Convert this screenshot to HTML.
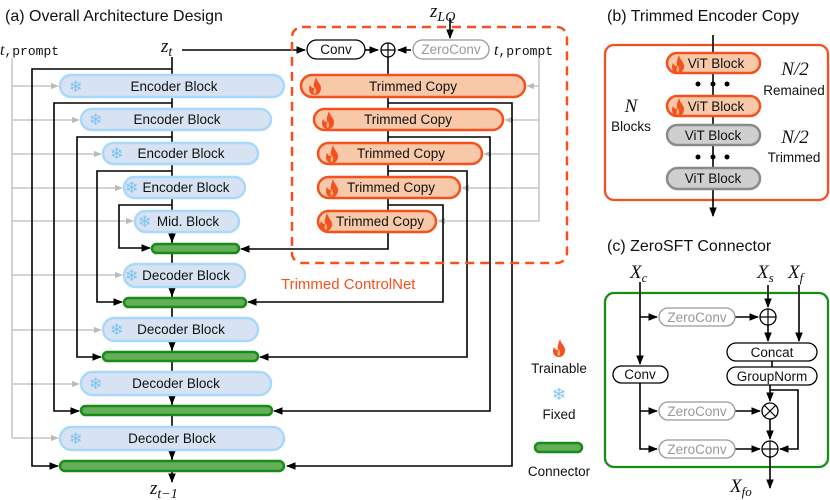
<!DOCTYPE html>
<html><head><meta charset="utf-8"><style>
html,body{margin:0;padding:0;background:#fff}
svg{display:block}
text{font-family:"Liberation Sans",sans-serif;font-size:13.5px;fill:#111}
.m{font-family:"Liberation Serif",serif;font-style:italic;font-size:19px}
.tt{font-family:"Liberation Mono",monospace;font-size:13px;font-style:normal}
.sf{fill:#7ec4f0;font-size:16px}
.enc{fill:#d7e2f3;stroke:#a9d9fa;stroke-width:2.5}
.tc{fill:#f7c9a8;stroke:#f4511e;stroke-width:2.5}
.con{fill:#66ad5c;stroke:#168e16;stroke-width:2.5}
.vg{fill:#cfcfcf;stroke:#8a8a8a;stroke-width:2.5}
.k{stroke:#000;stroke-width:1.6;fill:none}
.g{stroke:#bbb;stroke-width:1.3;fill:none}
.zc{fill:#fff;stroke:#999;stroke-width:1.3}
.bx{fill:#fff;stroke:#000;stroke-width:1.3}
</style></head><body>
<svg width="830" height="500" viewBox="0 0 830 500" xmlns="http://www.w3.org/2000/svg">
<defs>
<marker id="a" viewBox="0 0 10 10" refX="9" refY="5" markerWidth="6" markerHeight="6" orient="auto-start-reverse"><path d="M0,1 L10,5 L0,9 z" fill="#000"/></marker>
<marker id="ag" viewBox="0 0 10 10" refX="9" refY="5" markerWidth="6" markerHeight="6" orient="auto"><path d="M0,1 L10,5 L0,9 z" fill="#bbb"/></marker>
<g id="fl"><path d="M0,9 C-6,9 -7,3 -5,-1 C-4,1 -3,2 -1,2 C-2,-2 0,-6 1,-9 C2,-4 6,-2 6,2 C6,7 3,9 0,9 z" fill="#f4511e"/><path d="M0,8 C-2,8 -2,4 0,1 C1,4 2,6 0,8z" fill="#f9b27a"/></g>
</defs>

<text x="5" y="21" style="font-size:16px">(a) Overall Architecture Design</text>
<text x="607" y="21" style="font-size:16px">(b) Trimmed Encoder Copy</text>
<text x="607" y="251" style="font-size:16px">(c) ZeroSFT Connector</text>

<path class="g" d="M12,58 V438"/>
<g class="g" marker-end="url(#ag)">
<path d="M12,86 H58"/><path d="M12,120 H79"/><path d="M12,154 H101"/><path d="M12,188 H122"/><path d="M12,221 H133"/>
<path d="M12,275 H122"/><path d="M12,330 H101"/><path d="M12,384 H79"/><path d="M12,438 H58"/>
</g>
<path class="g" d="M539,58 V221"/>
<g class="g" marker-end="url(#ag)">
<path d="M539,86 H527"/><path d="M539,120 H505"/><path d="M539,154 H484"/><path d="M539,188 H462"/><path d="M539,221 H438"/>
</g>

<path class="k" d="M172,57 V482" marker-end="url(#a)"/>
<path class="k" d="M182,50 H305" marker-end="url(#a)"/>
<path class="k" d="M172,69 H32 V466 H58" marker-end="url(#a)"/>
<path class="k" d="M172,103 H54 V411 H79" marker-end="url(#a)"/>
<path class="k" d="M172,137 H77 V357 H101" marker-end="url(#a)"/>
<path class="k" d="M172,171 H97 V302 H122" marker-end="url(#a)"/>
<path class="k" d="M172,205 H119 V248 H150" marker-end="url(#a)"/>
<g class="k" marker-end="url(#a)">
<path d="M172,233 V242"/><path d="M172,287 V296"/><path d="M172,341 V350"/><path d="M172,395 V404"/><path d="M172,450 V459"/>
</g>

<path class="k" d="M365,50 H378" marker-end="url(#a)"/>
<path class="k" d="M411,50 H398" marker-end="url(#a)"/>
<path class="k" d="M450,18 V38" marker-end="url(#a)"/>
<path class="k" d="M388,57 V249 H241" marker-end="url(#a)"/>
<path class="k" d="M388,103 H512 V466 H287" marker-end="url(#a)"/>
<path class="k" d="M388,137 H490 V411 H274" marker-end="url(#a)"/>
<path class="k" d="M388,171 H467 V357 H260" marker-end="url(#a)"/>
<path class="k" d="M388,205 H443 V302 H248" marker-end="url(#a)"/>

<rect x="292" y="27" width="275" height="236" rx="10" fill="none" stroke="#f4511e" stroke-width="2.5" stroke-dasharray="9,6"/>
<text x="281" y="289" style="fill:#f4511e;font-size:15px">Trimmed ControlNet</text>

<rect x="307" y="40" width="58" height="19" rx="9.5" class="bx"/><text x="336" y="54" text-anchor="middle">Conv</text>
<circle cx="388" cy="50" r="7" class="bx"/><path d="M381,50 H395 M388,43 V57" stroke="#000" stroke-width="1.2"/>
<rect x="413" y="40" width="76" height="19" rx="9.5" class="zc"/><text x="451" y="54" text-anchor="middle" style="fill:#999">ZeroConv</text>
<text x="494" y="55" class="m" style="font-size:16px">t<tspan class="tt">,prompt</tspan></text>
<text x="0" y="55" class="m" style="font-size:16px">t<tspan class="tt">,prompt</tspan></text>
<text x="161" y="52" class="m">z<tspan dy="4" style="font-size:14px">t</tspan></text>
<text x="430" y="17" class="m">z<tspan dy="4" style="font-size:14px">LQ</tspan></text>
<text x="150" y="494" class="m">z<tspan dy="4" style="font-size:14px">t−1</tspan></text>

<rect x="301" y="75" width="224" height="22" rx="11" class="tc"/><use href="#fl" x="315" y="86"/><text x="413" y="91" text-anchor="middle">Trimmed Copy</text>
<rect x="314" y="109" width="189" height="21" rx="10.5" class="tc"/><use href="#fl" x="328" y="120"/><text x="408" y="124" text-anchor="middle">Trimmed Copy</text>
<rect x="318" y="143" width="164" height="21" rx="10.5" class="tc"/><use href="#fl" x="332" y="154"/><text x="401" y="158" text-anchor="middle">Trimmed Copy</text>
<rect x="318" y="177" width="142" height="21" rx="10.5" class="tc"/><use href="#fl" x="332" y="188"/><text x="391" y="192" text-anchor="middle">Trimmed Copy</text>
<rect x="318" y="211" width="118" height="21" rx="10.5" class="tc"/><use href="#fl" x="326" y="222"/><text x="380" y="226" text-anchor="middle">Trimmed Copy</text>

<rect x="60" y="75" width="224" height="22" rx="11" class="enc"/><text x="69" y="92" class="sf">❄</text><text x="174" y="91" text-anchor="middle">Encoder Block</text>
<rect x="81" y="109" width="190" height="21" rx="10.5" class="enc"/><text x="89" y="125" class="sf">❄</text><text x="177" y="124" text-anchor="middle">Encoder Block</text>
<rect x="103" y="143" width="155" height="21" rx="10.5" class="enc"/><text x="110" y="159" class="sf">❄</text><text x="181" y="158" text-anchor="middle">Encoder Block</text>
<rect x="124" y="177" width="121" height="21" rx="10.5" class="enc"/><text x="125" y="193" class="sf">❄</text><text x="186" y="192" text-anchor="middle">Encoder Block</text>
<rect x="135" y="211" width="104" height="21" rx="10.5" class="enc"/><text x="138" y="227" class="sf">❄</text><text x="188" y="226" text-anchor="middle">Mid. Block</text>
<rect x="124" y="264" width="121" height="23" rx="11.5" class="enc"/><text x="125" y="281" class="sf">❄</text><text x="186" y="280" text-anchor="middle">Decoder Block</text>
<rect x="103" y="318" width="155" height="23" rx="11.5" class="enc"/><text x="110" y="335" class="sf">❄</text><text x="181" y="334" text-anchor="middle">Decoder Block</text>
<rect x="81" y="372" width="190" height="23" rx="11.5" class="enc"/><text x="89" y="389" class="sf">❄</text><text x="176" y="388" text-anchor="middle">Decoder Block</text>
<rect x="60" y="427" width="224" height="23" rx="11.5" class="enc"/><text x="69" y="444" class="sf">❄</text><text x="172" y="443" text-anchor="middle">Decoder Block</text>

<rect x="152" y="244" width="87" height="9" rx="4.5" class="con"/>
<rect x="124" y="298" width="122" height="9" rx="4.5" class="con"/>
<rect x="103" y="352" width="155" height="9" rx="4.5" class="con"/>
<rect x="81" y="406" width="191" height="9" rx="4.5" class="con"/>
<rect x="60" y="461" width="224" height="10" rx="5" class="con"/>

<use href="#fl" x="559" y="348"/>
<text x="559" y="373" text-anchor="middle">Trainable</text>
<text x="559" y="400" text-anchor="middle" class="sf" style="font-size:17px">❄</text>
<text x="559" y="419" text-anchor="middle">Fixed</text>
<rect x="535" y="443" width="47" height="9" rx="4.5" class="con"/>
<text x="559" y="476" text-anchor="middle">Connector</text>

<rect x="605" y="45" width="223" height="155" rx="9" fill="none" stroke="#f4511e" stroke-width="2.3"/>
<path class="k" d="M713,35 V216" marker-end="url(#a)" stroke-width="1.3"/>
<rect x="667" y="53" width="93" height="20" rx="10" class="tc"/><use href="#fl" x="678" y="64"/><text x="716" y="68" text-anchor="middle">ViT Block</text>
<rect x="667" y="96" width="93" height="20" rx="10" class="tc"/><use href="#fl" x="678" y="107"/><text x="716" y="111" text-anchor="middle">ViT Block</text>
<rect x="667" y="125" width="93" height="20" rx="10" class="vg"/><text x="713" y="140" text-anchor="middle">ViT Block</text>
<rect x="667" y="168" width="93" height="21" rx="10.5" class="vg"/><text x="713" y="183" text-anchor="middle">ViT Block</text>
<g fill="#000"><circle cx="698" cy="84" r="2.5"/><circle cx="713" cy="84" r="2.5"/><circle cx="727" cy="84" r="2.5"/>
<circle cx="698" cy="157" r="2.5"/><circle cx="713" cy="157" r="2.5"/><circle cx="727" cy="157" r="2.5"/></g>
<text x="795" y="75" class="m" text-anchor="middle">N/2</text>
<text x="794" y="95" text-anchor="middle">Remained</text>
<text x="631" y="112" class="m" text-anchor="middle">N</text>
<text x="631" y="131" text-anchor="middle">Blocks</text>
<text x="795" y="143" class="m" text-anchor="middle">N/2</text>
<text x="794" y="162" text-anchor="middle">Trimmed</text>

<rect x="605" y="293" width="223" height="174" rx="9" fill="none" stroke="#168e16" stroke-width="2.3"/>
<text x="630" y="278" class="m">X<tspan dy="4" style="font-size:13px">c</tspan></text>
<text x="757" y="278" class="m">X<tspan dy="4" style="font-size:13px">s</tspan></text>
<text x="788" y="278" class="m">X<tspan dy="4" style="font-size:13px">f</tspan></text>
<text x="730" y="492" class="m">X<tspan dy="4" style="font-size:13px">fo</tspan></text>
<g class="k" stroke-width="1.3">
<path d="M640,282 V364" marker-end="url(#a)"/>
<path d="M640,317 H657" marker-end="url(#a)"/>
<path d="M735,317 H758" marker-end="url(#a)"/>
<path d="M768,285 V307" marker-end="url(#a)"/>
<path d="M768,325 V341" marker-end="url(#a)"/>
<path d="M799,285 V341" marker-end="url(#a)"/>
<path d="M640,383 V449 H657" marker-end="url(#a)"/>
<path d="M640,411 H657" marker-end="url(#a)"/>
<path d="M735,411 H760" marker-end="url(#a)"/>
<path d="M735,449 H760" marker-end="url(#a)"/>
<path d="M770,385 V401" marker-end="url(#a)"/>
<path d="M770,390 H798 V449 H780" marker-end="url(#a)"/>
<path d="M770,419 V439" marker-end="url(#a)"/>
<path d="M770,457 V488" marker-end="url(#a)"/>
<path d="M772,361 V367"/>
</g>
<rect x="659" y="308" width="76" height="18" rx="9" class="zc"/><text x="697" y="322" text-anchor="middle" style="fill:#999">ZeroConv</text>
<rect x="659" y="402" width="76" height="18" rx="9" class="zc"/><text x="697" y="416" text-anchor="middle" style="fill:#999">ZeroConv</text>
<rect x="659" y="440" width="76" height="18" rx="9" class="zc"/><text x="697" y="454" text-anchor="middle" style="fill:#999">ZeroConv</text>
<rect x="613" y="366" width="55" height="17" rx="8.5" class="bx"/><text x="640" y="379" text-anchor="middle">Conv</text>
<rect x="727" y="343" width="90" height="18" rx="9" class="bx"/><text x="772" y="357" text-anchor="middle">Concat</text>
<rect x="727" y="367" width="90" height="18" rx="9" class="bx"/><text x="772" y="381" text-anchor="middle">GroupNorm</text>
<circle cx="768" cy="317" r="8" class="bx"/><path d="M760,317 H776 M768,309 V325" stroke="#000" stroke-width="1.2"/>
<circle cx="770" cy="411" r="8" class="bx"/><path d="M764.5,405.5 L775.5,416.5 M775.5,405.5 L764.5,416.5" stroke="#000" stroke-width="1.2"/>
<circle cx="770" cy="449" r="8" class="bx"/><path d="M762,449 H778 M770,441 V457" stroke="#000" stroke-width="1.2"/>
</svg>
</body></html>
